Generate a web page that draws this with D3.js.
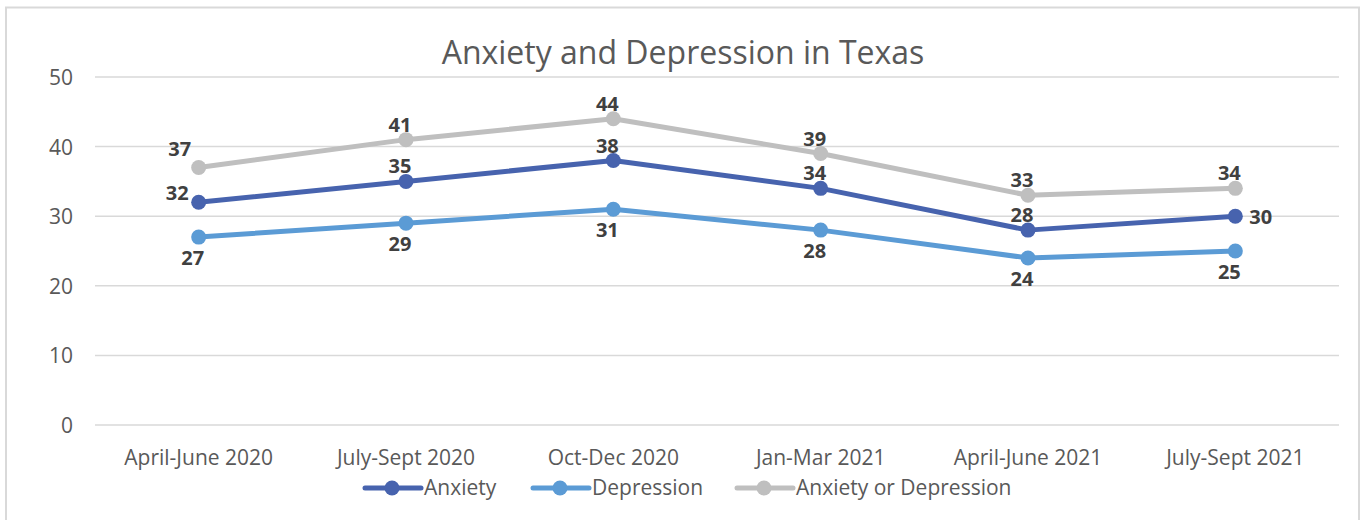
<!DOCTYPE html>
<html>
<head>
<meta charset="utf-8">
<script src="https://cdn.jsdelivr.net/npm/d3@7"></script>
<style>
  html, body { margin: 0; padding: 0; background: #fff; }
  svg { display: block; }
</style>
</head>
<body>
<svg id="chart" width="1360" height="520"></svg>
<script>
// Survey periods and percentages for adults in Texas
const periods = ["April-June 2020", "July-Sept 2020", "Oct-Dec 2020", "Jan-Mar 2021", "April-June 2021", "July-Sept 2021"];
const anxiety = [32, 35, 38, 34, 28, 30];
const depression = [27, 29, 31, 28, 24, 25];
const anxietyOrDepression = [37, 41, 44, 39, 33, 34];
const yTicks = [0, 10, 20, 30, 40, 50];

const series = [
  { name: "Anxiety", values: anxiety, color: "#4763ae",
    labelPos: ["left", "above", "above", "above", "above", "right"] },
  { name: "Depression", values: depression, color: "#5b9bd5",
    labelPos: ["below", "below", "below", "below", "below", "below"] },
  { name: "Anxiety or Depression", values: anxietyOrDepression, color: "#bfbfbf",
    labelPos: ["aboveLeft", "above", "above", "above", "above", "above"] }
];

const svg = d3.select("#chart");
const font = "'Open Sans', 'Liberation Sans', sans-serif";

// chart frame
svg.append("rect")
  .attr("x", 6).attr("y", 7.5).attr("width", 1353).attr("height", 520)
  .attr("fill", "none").attr("stroke", "#d9d9d9").attr("stroke-width", 2);

const plot = { left: 95, right: 1339, top: 77, bottom: 425 };

const x = d3.scaleBand().domain(periods).range([plot.left, plot.right]);
const y = d3.scaleLinear().domain([0, 50]).range([plot.bottom, plot.top]);
const cx = p => x(p) + x.bandwidth() / 2;

// gridlines
svg.append("g").selectAll("line").data(yTicks).join("line")
  .attr("x1", plot.left).attr("x2", plot.right)
  .attr("y1", d => y(d)).attr("y2", d => y(d))
  .attr("stroke", "#d9d9d9").attr("stroke-width", 1.5);

// y axis labels
const yAxis = d3.axisLeft(y).tickValues(yTicks).tickSize(0).tickPadding(0);
svg.append("g").attr("transform", `translate(${plot.left - 22},0)`).call(yAxis)
  .call(g => g.select(".domain").remove())
  .call(g => g.selectAll("text")
    .attr("fill", "#595959").attr("font-size", 21).attr("font-family", font)
    .attr("dy", "0.36em"));

// x axis labels
const xAxis = d3.axisBottom(x).tickSize(0).tickPadding(0);
svg.append("g").attr("transform", `translate(0,${plot.bottom + 40})`).call(xAxis)
  .call(g => g.select(".domain").remove())
  .call(g => g.selectAll("text")
    .attr("fill", "#595959").attr("font-size", 21).attr("font-family", font)
    .attr("y", 0).attr("dy", 0));

// title
svg.append("text")
  .attr("x", 683).attr("y", 64).attr("text-anchor", "middle")
  .attr("fill", "#595959").attr("font-size", 32).attr("font-family", font)
  .text("Anxiety and Depression in Texas");

// lines, markers and data labels (drawn back to front)
const line = d3.line().x((d, i) => cx(periods[i])).y(d => y(d));
const order = [series[2], series[1], series[0]];

order.forEach(s => {
  svg.append("path").datum(s.values)
    .attr("d", line).attr("fill", "none")
    .attr("stroke", s.color).attr("stroke-width", 5)
    .attr("stroke-linejoin", "round").attr("stroke-linecap", "round");
  svg.append("g").selectAll("circle").data(s.values).join("circle")
    .attr("cx", (d, i) => cx(periods[i])).attr("cy", d => y(d))
    .attr("r", 7.5).attr("fill", s.color);
});

// label placement relative to each marker: [dx, baseline dy, anchor]
const offsets = {
  above: [-6, -8, "middle"],
  aboveLeft: [-19, -11, "middle"],
  below: [-6, 28, "middle"],
  left: [-10, -2, "end"],
  right: [14, 8, "start"]
};

series.forEach(s => {
  svg.append("g").selectAll("text").data(s.values).join("text")
    .attr("x", (d, i) => cx(periods[i]) + offsets[s.labelPos[i]][0])
    .attr("y", (d, i) => y(d) + offsets[s.labelPos[i]][1])
    .attr("text-anchor", (d, i) => offsets[s.labelPos[i]][2])
    .attr("fill", "#404040").attr("font-size", 20).attr("font-weight", "bold")
    .attr("font-family", font)
    .text(d => d);
});

// legend
const legendItems = [
  { s: series[0], x: 365 },
  { s: series[1], x: 533 },
  { s: series[2], x: 737 }
];
const lg = svg.append("g");
legendItems.forEach(it => {
  const ly = 488;
  lg.append("line").attr("x1", it.x).attr("x2", it.x + 56)
    .attr("y1", ly).attr("y2", ly)
    .attr("stroke", it.s.color).attr("stroke-width", 5).attr("stroke-linecap", "round");
  lg.append("circle").attr("cx", it.x + 27).attr("cy", ly).attr("r", 7.5).attr("fill", it.s.color);
  lg.append("text").attr("x", it.x + 59).attr("y", ly + 7)
    .attr("fill", "#595959").attr("font-size", 21).attr("font-family", font)
    .text(it.s.name);
});
</script>
</body>
</html>
